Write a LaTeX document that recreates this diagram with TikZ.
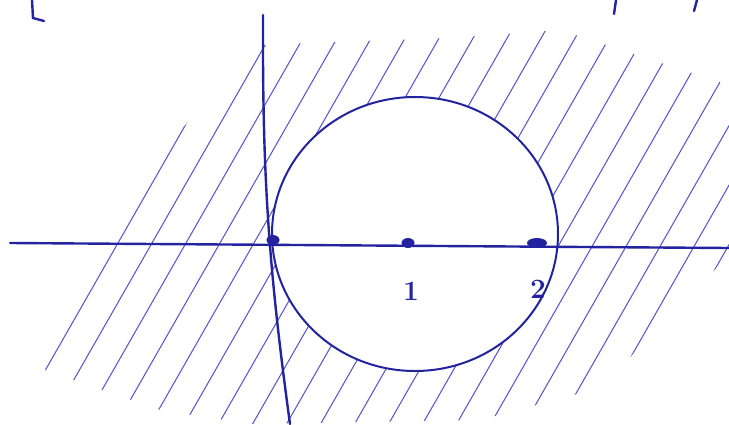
\documentclass[tikz,border=0pt]{standalone}
\usepackage{tikz}
\usetikzlibrary{positioning}
\definecolor{ink}{HTML}{2323A0}
\definecolor{inklight}{HTML}{5C5CCC}
\tikzset{
  axisline/.style={draw=ink,line width=2.4pt,line cap=round},
  ringline/.style={draw=ink,line width=2pt},
  hatchline/.style={draw=inklight,line width=1.1pt,line cap=round},
  dotmark/.style={fill=ink,ellipse,inner sep=0pt,minimum width=13pt,minimum height=10pt},
  ticklabel/.style={text=ink,font=\fontsize{28}{30}\selectfont\bfseries,inner sep=1pt}
}
\usetikzlibrary{shapes.geometric}
\begin{document}
\begin{tikzpicture}[x=1pt,y=-1pt]
  \useasboundingbox (0,0) rectangle (729,424);
  % hatching outside the circle
  \begin{scope}[even odd rule]
    \clip (45,370) -- (120,195) -- (190,120) -- (262,45) -- (330,42)
      -- (450,38) -- (560,30) -- (729,85) -- (729,255) -- (600,388) -- (480,420)
      -- (250,424) -- (160,410) -- cycle
      (415,234) ellipse (143 and 137);
    \foreach \c in {-120,-86,...,900}
      \draw[hatchline] ({\c+250/1.75},-7) -- ({\c-190/1.75},433);
  \end{scope}
  % axes
  \coordinate (xl) at (10,243);
  \coordinate (xr) at (729,248);
  \coordinate (yt) at (263,15);
  \coordinate (yb) at (290,424);
  \draw[axisline] (xl) -- (xr);
  \draw[axisline] (yt) to[bend right=4] (yb);
  % circle
  \draw[ringline] (415,234) ellipse (143 and 137);
  % points
  \node[dotmark] (p0) at (273,240) {};
  \node[dotmark] (p1) at (408,243) {};
  \node[dotmark,minimum width=20pt] (p2) at (537,243) {};
  \node[ticklabel] (l1) at (411,291) {1};
  \node[ticklabel] (l2) at (538,289) {2};
  % cut-off marks at the top
  \draw[axisline] (32,0) -- (33,18) -- (44,21);
  \draw[axisline] (616,0) -- (614,14);
  \draw[axisline] (697,0) -- (694,11);
\end{tikzpicture}
\end{document}
